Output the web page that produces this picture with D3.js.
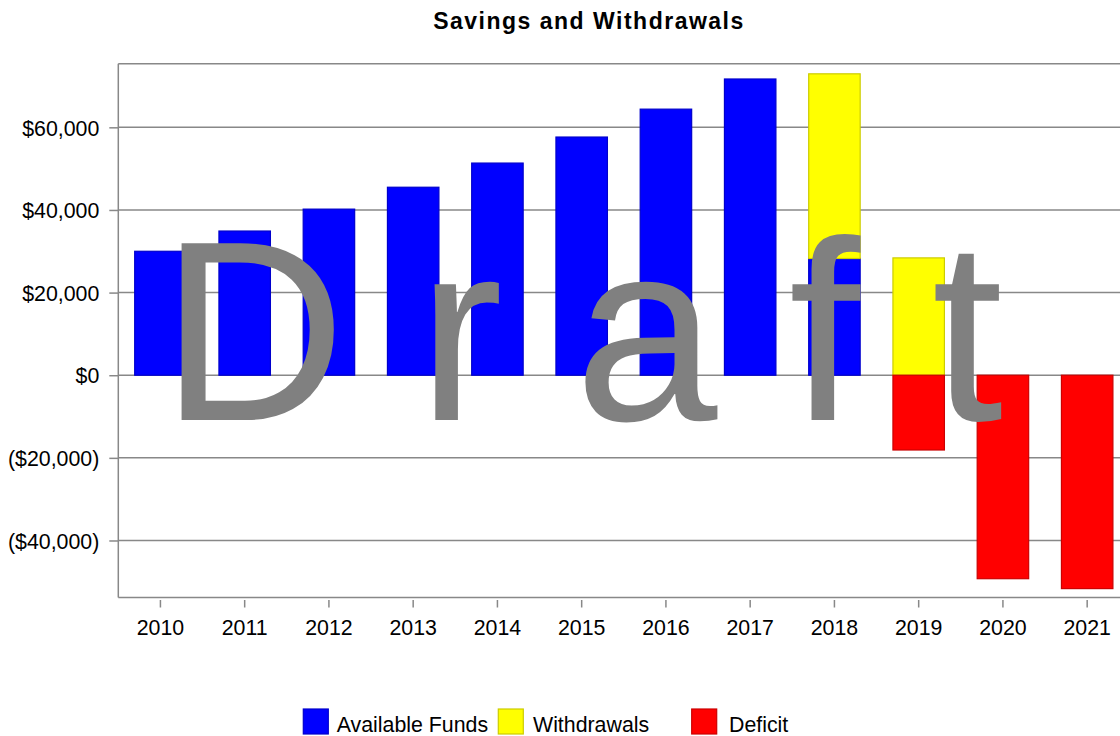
<!DOCTYPE html>
<html>
<head>
<meta charset="utf-8">
<script src="https://cdn.jsdelivr.net/npm/d3@7/dist/d3.min.js"></script>
<style>
  html, body { margin: 0; padding: 0; background: #fff; }
  svg { display: block; font-family: "Liberation Sans", Arial, sans-serif; }
</style>
</head>
<body>
<svg id="chart" width="1120" height="736"></svg>
<script>
// ---- data ----
const years = ["2010","2011","2012","2013","2014","2015","2016","2017","2018","2019","2020","2021"];
const availableFunds = [30000, 34900, 40200, 45500, 51350, 57650, 64400, 71700, 28250, 0, 0, 0];
const withdrawals    = [0, 0, 0, 0, 0, 0, 0, 0, 44700, 28400, 0, 0];
const deficit        = [0, 0, 0, 0, 0, 0, 0, 0, 0, -18100, -49250, -51650];
const seriesNames = ["Available Funds", "Withdrawals", "Deficit"];
const yTicks = [-40000, -20000, 0, 20000, 40000, 60000];
const yDomain = [-53800, 75400];
const titleText = "Savings and Withdrawals";
const watermark = "D r a f t";

// ---- styles ----
const fills   = ["#0000ff", "#ffff00", "#ff0000"];
const strokes = ["#0000cc", "#cccc00", "#cc0000"];

(function () {
const svg = d3.select("#chart");
const pLeft = 118.3, pTop = 63.7, pBottom = 597.5, step = 84.25;
const pRight = pLeft + step * years.length;

const x = d3.scaleBand().domain(years).range([pLeft, pRight]).paddingInner(0.389).paddingOuter(0.1945);
const y = d3.scaleLinear().domain(yDomain).range([pBottom, pTop]);

const rows = years.map((yr, i) => ({year: yr, "Available Funds": availableFunds[i], "Withdrawals": withdrawals[i], "Deficit": deficit[i]}));
const stacked = d3.stack().keys(seriesNames).offset(d3.stackOffsetDiverging)(rows);

// gridlines
svg.append("g").selectAll("line").data(yTicks).join("line")
  .attr("x1", pLeft).attr("x2", pRight)
  .attr("y1", d => y(d)).attr("y2", d => y(d))
  .attr("stroke", "#888").attr("stroke-width", 1.5);

// top frame
svg.append("line").attr("x1", pLeft).attr("x2", pRight).attr("y1", pTop).attr("y2", pTop)
  .attr("stroke", "#888").attr("stroke-width", 1.5);

// bars
stacked.forEach((s, si) => {
  svg.append("g").selectAll("rect").data(s.filter(d => d[1] - d[0] !== 0)).join("rect")
    .attr("x", d => x(d.data.year))
    .attr("width", x.bandwidth())
    .attr("y", d => y(Math.max(d[0], d[1])))
    .attr("height", d => Math.abs(y(d[0]) - y(d[1])))
    .attr("fill", fills[si])
    .attr("stroke", strokes[si])
    .attr("stroke-width", 1.2);
});

// y axis
const fmt = v => v < 0 ? "(" + d3.format("$,")(-v) + ")" : d3.format("$,")(v);
const yAxis = d3.axisLeft(y).tickValues(yTicks).tickFormat(fmt).tickSize(9).tickPadding(10);
const gy = svg.append("g").attr("transform", `translate(${pLeft},0)`).call(yAxis);
gy.select(".domain").attr("stroke", "#888").attr("stroke-width", 1.5).attr("d", `M0,${pTop}V${pBottom}`);
gy.selectAll(".tick line").attr("stroke", "#888").attr("stroke-width", 1.5);
gy.selectAll(".tick text").attr("font-size", "21.33px").attr("fill", "#000").attr("dy", "0.36em")
  .attr("font-family", "'Liberation Sans', Arial, sans-serif");

// x axis
const xAxis = d3.axisBottom(x).tickSize(0).tickPadding(0);
const gx = svg.append("g").attr("transform", `translate(0,${pBottom})`).call(xAxis);
gx.select(".domain").attr("stroke", "#888").attr("stroke-width", 1.5).attr("d", `M${pLeft},0H${pRight}`);
gx.selectAll(".tick").append("line").attr("y1", 2.5).attr("y2", 10).attr("stroke", "#888").attr("stroke-width", 1.5);
gx.selectAll(".tick text").attr("font-size", "21.33px").attr("fill", "#000").attr("dy", null).attr("y", 37)
  .attr("font-family", "'Liberation Sans', Arial, sans-serif");

// watermark
svg.append("text").attr("x", 160.5).attr("y", 420)
  .attr("font-size", "257px").attr("fill", "#808080")
  .style("white-space", "pre")
  .text(watermark);

// title
svg.append("text").attr("x", 589).attr("y", 29).attr("text-anchor", "middle")
  .attr("font-size", "23px").attr("font-weight", "bold").attr("letter-spacing", "1.5px")
  .text(titleText);

// legend
const legendX = [303.3, 498.3, 691.7];
const legendTextX = [336.7, 533, 729];
const lg = svg.append("g");
seriesNames.forEach((n, i) => {
  lg.append("rect").attr("x", legendX[i]).attr("y", 709).attr("width", 25).attr("height", 25)
    .attr("fill", fills[i]).attr("stroke", strokes[i]).attr("stroke-width", 1.2);
  lg.append("text").attr("x", legendTextX[i]).attr("y", 732).attr("font-size", "21.33px").text(n);
});
})();
</script>
</body>
</html>
